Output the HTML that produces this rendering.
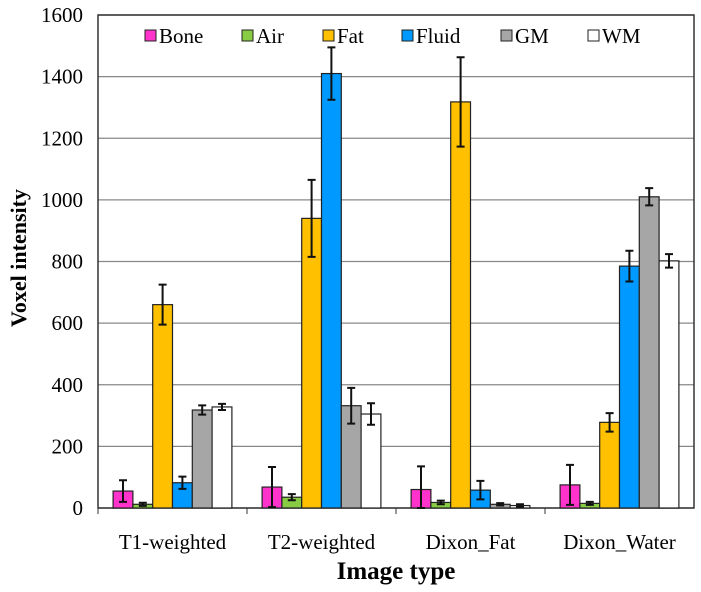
<!DOCTYPE html>
<html><head><meta charset="utf-8"><style>
body{margin:0;background:#fff;}
svg text{font-family:"Liberation Serif",serif;}
</style></head><body>
<svg width="701" height="587" id="svg" xmlns="http://www.w3.org/2000/svg"></svg>
<script>
const categories=["T1-weighted","T2-weighted","Dixon_Fat","Dixon_Water"];
const seriesNames=["Bone","Air","Fat","Fluid","GM","WM"];
const seriesColors=["#ff33cc","#88cc44","#ffc000","#0099ff","#a6a6a6","#ffffff"];
const bone=[55,68,60,75];
const air=[12,35,18,15];
const fat=[660,940,1318,278];
const fluid=[82,1410,58,785];
const gm=[318,332,12,1010];
const wm=[328,305,8,802];
const boneErr=[35,65,75,65];
const airErr=[5,10,6,5];
const fatErr=[65,125,145,30];
const fluidErr=[20,85,30,50];
const gmErr=[15,58,4,28];
const wmErr=[10,35,4,22];
const yTicks=[0,200,400,600,800,1000,1200,1400,1600];
const series=[bone,air,fat,fluid,gm,wm];
const errs=[boneErr,airErr,fatErr,fluidErr,gmErr,wmErr];
const NS="http://www.w3.org/2000/svg";
const svg=document.getElementById('svg');
const L=98,R=694,T=15,B=508,yMax=1600;
const y=v=>B-(v/yMax)*(B-T);
const gw=(R-L)/categories.length, bw=19.8, gpad=(gw-bw*6)/2;
const x=(c,s)=>L+c*gw+gpad+s*bw;
function mk(tag,a,p){const e=document.createElementNS(NS,tag);for(const k in a)e.setAttribute(k,a[k]);(p||svg).appendChild(e);return e;}
yTicks.forEach(t=>{
  const g=mk('line',{x1:L,x2:R,y1:y(t),y2:y(t),stroke:'#888','stroke-width':1.3});
  
  
  const tx=mk('text',{x:83,y:y(t)+7,'text-anchor':'end','font-size':21});
  tx.textContent=t;
  
  
});
const frame=mk('rect',{x:L,y:T,width:R-L,height:B-T,fill:'none',stroke:'#333','stroke-width':1.5});


series.forEach((vals,s)=>{
  vals.forEach((v,c)=>{
    const r=mk('rect',{x:x(c,s),y:y(v),width:bw,height:B-y(v),fill:seriesColors[s],stroke:'#222','stroke-width':1.2});
    
    
    const e=errs[s][c], cx=x(c,s)+bw/2;
    const eg=mk('path',{d:`M${cx},${y(v+e)}V${y(Math.max(0,v-e))}M${cx-4},${y(v+e)}H${cx+4}M${cx-4},${y(Math.max(0,v-e))}H${cx+4}`,stroke:'#111','stroke-width':2,fill:'none'});
    
    
  });
});
categories.forEach((c,i)=>{
  const tk=mk('line',{x1:L+i*gw,x2:L+i*gw,y1:B,y2:B+6,stroke:'#333'});
  
  
  const t=mk('text',{x:L+i*gw+gw/2,y:549,'text-anchor':'middle','font-size':21});
  t.textContent=c;
  
  
});
const lx=[145,242,323,402,501,588];
seriesNames.forEach((n,i)=>{
  const g=mk('g',{});
  
  
  mk('rect',{x:lx[i],y:30,width:11,height:11,fill:seriesColors[i],stroke:'#222','stroke-width':1},g);
  const t=mk('text',{x:lx[i]+14,y:43,'font-size':21},g);
  t.textContent=n;
});
const xt=mk('text',{x:396,y:579,'text-anchor':'middle','font-size':25,'font-weight':'bold'});
xt.textContent='Image type';


const yt=mk('text',{x:0,y:0,'text-anchor':'middle','font-size':22,'font-weight':'bold',transform:'translate(26,258) rotate(-90)'});
yt.textContent='Voxel intensity';


</script>
</body></html>
